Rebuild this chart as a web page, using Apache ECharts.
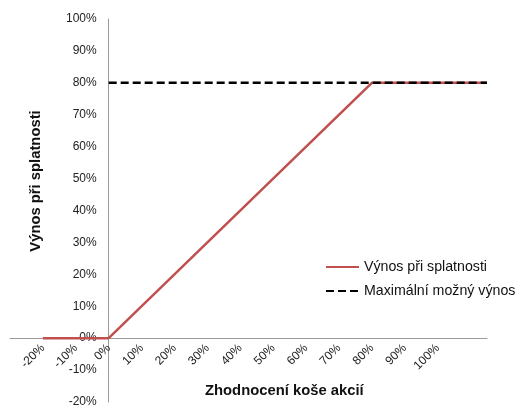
<!DOCTYPE html>
<html>
<head>
<meta charset="utf-8">
<script src="https://cdn.jsdelivr.net/npm/echarts@6/dist/echarts.min.js"></script>
<style>
  html, body { margin: 0; padding: 0; background: #fff; }
  #chart { width: 520px; height: 407px; }
</style>
</head>
<body>
<div id="chart"></div>
<script>
// payoff at maturity vs. basket appreciation
const basketX = [-0.2, 0, 0.8, 1.15];
const payoffY = [0, 0, 0.8, 0.8];
const capX = [0, 1.15];
const capY = [0.8, 0.8];
const seriesNames = ['Výnos při splatnosti', 'Maximální možný výnos'];

const font = 'Liberation Sans, Arial, sans-serif';

// plot area, axes cross at (0, 0)
const gridLeft = 10, gridRight = 33, gridTop = 19, gridBottom = 5;
const xMin = -0.3, xMax = 1.15, yMin = -0.2, yMax = 1;
const plotW = 520 - gridLeft - gridRight;
const plotH = 407 - gridTop - gridBottom;
const yAxisOffset = -((0 - xMin) / (xMax - xMin)) * plotW;
const xAxisOffset = -((0 - yMin) / (yMax - yMin)) * plotH;

function pct (v) {
  return Math.round(v * 100) + '%';
}

function pairs (xs, ys) {
  return xs.map((x, i) => [x, ys[i]]);
}

const chart = echarts.init(document.getElementById('chart'), null, { renderer: 'canvas' });

const option = {
  animation: false,
  backgroundColor: '#fff',
  grid: {
    left: gridLeft, right: gridRight, top: gridTop, bottom: gridBottom,
    containLabel: false, outerBoundsMode: 'none'
  },
  xAxis: {
    type: 'value',
    min: xMin,
    max: xMax,
    interval: 0.1,
    offset: xAxisOffset,
    splitLine: { show: false },
    axisTick: { show: false },
    axisLine: { onZero: false, lineStyle: { color: '#9a9a9a', width: 1 } },
    axisLabel: {
      rotate: 45,
      margin: 8,
      color: '#222',
      fontFamily: font,
      fontSize: 12,
      showMaxLabel: false,
      formatter: function (v) {
        if (v < -0.25 || v > 1.05) return '';
        return pct(v);
      }
    }
  },
  yAxis: {
    type: 'value',
    min: yMin,
    max: yMax,
    interval: 0.1,
    offset: yAxisOffset,
    splitLine: { show: false },
    axisTick: { show: false },
    axisLine: { show: true, onZero: false, lineStyle: { color: '#9a9a9a', width: 1 } },
    axisLabel: {
      margin: 12,
      color: '#222',
      fontFamily: font,
      fontSize: 12,
      formatter: pct
    }
  },
  legend: {
    orient: 'vertical',
    left: 325,
    top: 260,
    padding: 0,
    itemWidth: 33,
    itemHeight: 12,
    itemGap: 10,
    itemStyle: { opacity: 0 },
    textStyle: { fontFamily: font, fontSize: 14.2, color: '#111' },
    data: seriesNames
  },
  graphic: [
    {
      type: 'text',
      left: 205,
      top: 383,
      style: { text: 'Zhodnocení koše akcií', font: 'bold 14.8px ' + font, fill: '#111' }
    },
    {
      type: 'text',
      x: 36,
      y: 181,
      rotation: Math.PI / 2,
      style: {
        text: 'Výnos při splatnosti',
        font: 'bold 14.8px ' + font,
        fill: '#111',
        align: 'center',
        verticalAlign: 'middle'
      }
    }
  ],
  series: [
    {
      name: seriesNames[0],
      type: 'line',
      symbol: 'none',
      data: pairs(basketX, payoffY),
      lineStyle: { color: '#C0504D', width: 2.5 },
      itemStyle: { color: '#C0504D' }
    },
    {
      name: seriesNames[1],
      type: 'line',
      symbol: 'none',
      data: pairs(capX, capY),
      lineStyle: { color: '#000', width: 2.5, type: [8, 4] },
      itemStyle: { color: '#000' }
    }
  ]
};

chart.setOption(option);
</script>
</body>
</html>
